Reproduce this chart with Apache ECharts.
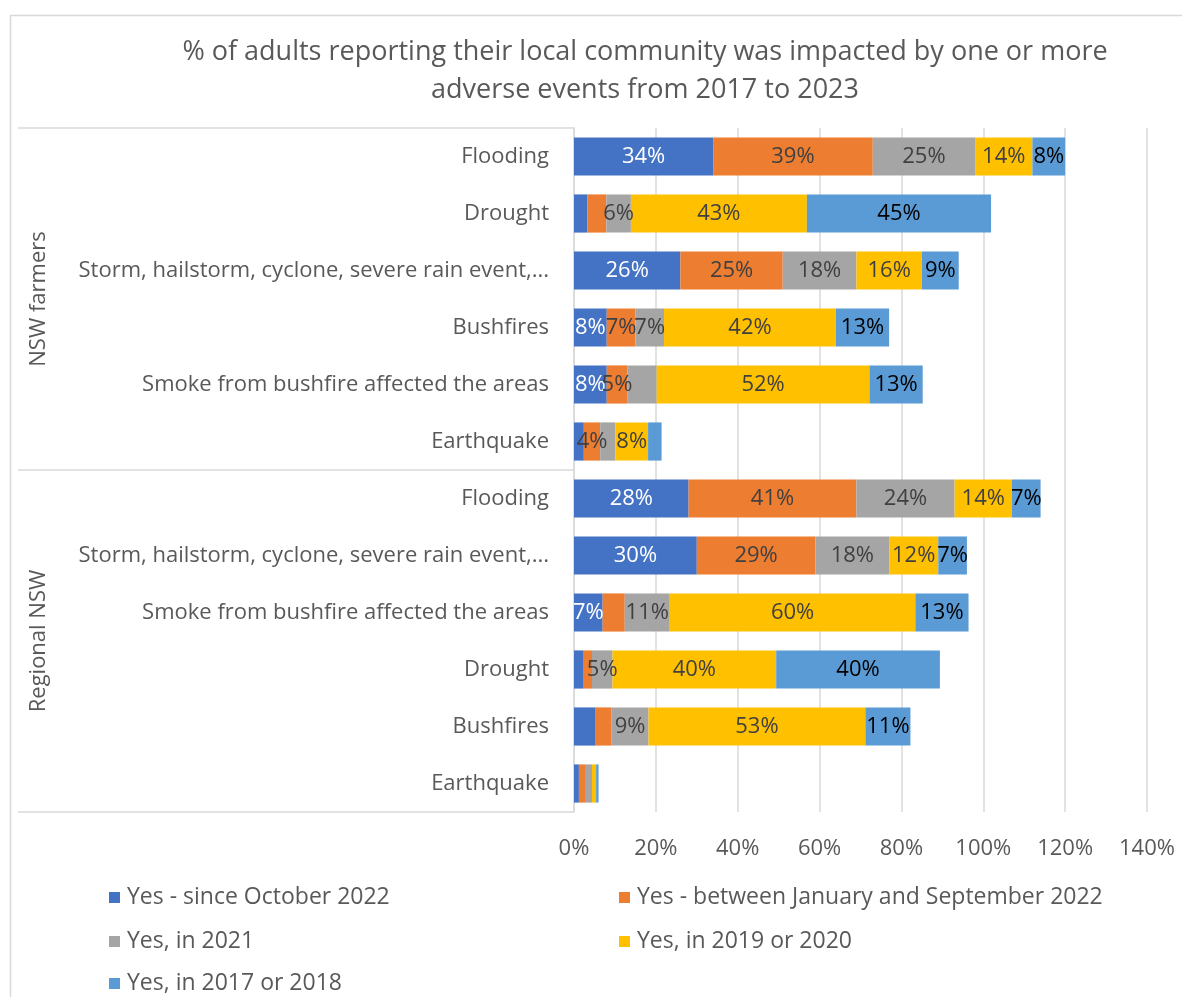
<!DOCTYPE html>
<html>
<head>
<meta charset="utf-8">
<script src="https://cdn.jsdelivr.net/npm/echarts@6/dist/echarts.min.js"></script>
<style>
  html, body { margin: 0; padding: 0; background: #fff; }
  #chart { width: 1182px; height: 997px; }
</style>
</head>
<body>
<div id="chart"></div>
<script>
// Events reported, in display order, for each respondent group
const groups = ['NSW farmers', 'Regional NSW'];
const farmerEvents = ['Flooding', 'Drought', 'Storm, hailstorm, cyclone, severe rain event,...', 'Bushfires', 'Smoke from bushfire affected the areas', 'Earthquake'];
const regionalEvents = ['Flooding', 'Storm, hailstorm, cyclone, severe rain event,...', 'Smoke from bushfire affected the areas', 'Drought', 'Bushfires', 'Earthquake'];

const seriesNames = ['Yes - since October 2022', 'Yes - between January and September 2022', 'Yes, in 2021', 'Yes, in 2019 or 2020', 'Yes, in 2017 or 2018'];

// Percent of adults, farmers rows first then regional rows
const sinceOct2022   = [34, 3.3, 26, 8, 8, 2.4,   28, 30, 7, 2.2, 5.3, 1.2];
const janToSep2022   = [39, 4.6, 25, 7, 5, 4,     41, 29, 5.4, 2.2, 3.9, 1.7];
const in2021         = [25, 6, 18, 7, 7.2, 3.7,   24, 18, 11, 5, 9, 1.5];
const in2019or2020   = [14, 43, 16, 42, 52, 8,    14, 12, 60, 40, 53, 1];
const in2017or2018   = [8, 45, 9, 13, 13, 3.3,    7, 7, 13, 40, 11, 0.6];

// Segments drawn without a value label: [series index, row index]
const unlabelled = [
  [0, 1], [1, 1], [2, 4], [0, 5], [2, 5], [4, 5],
  [1, 8], [0, 9], [1, 9], [0, 10], [1, 10],
  [0, 11], [1, 11], [2, 11], [3, 11], [4, 11]
];

const xTicks = [0, 20, 40, 60, 80, 100, 120, 140];

const seriesValues = [sinceOct2022, janToSep2022, in2021, in2019or2020, in2017or2018];
const colors = ['#4472C4', '#ED7D31', '#A5A5A5', '#FFC000', '#5B9BD5'];
const labelColors = ['#FFFFFF', '#404040', '#404040', '#404040', '#000000'];

const FONT = 'Open Sans';
const rowLabels = farmerEvents.concat(regionalEvents);
const rowKeys = rowLabels.map((n, i) => i + '|' + n);

const chart = echarts.init(document.getElementById('chart'), null, { renderer: 'canvas' });

const series = seriesValues.map((vals, s) => ({
  name: seriesNames[s],
  type: 'bar',
  stack: 'total',
  yAxisIndex: 0,
  barCategoryGap: '33%',
  itemStyle: { color: colors[s] },
  label: {
    show: true,
    position: 'inside',
    color: labelColors[s],
    fontFamily: FONT,
    fontSize: 22,
    formatter: p => p.value + '%'
  },
  data: vals.map((v, r) => {
    const hide = unlabelled.some(([si, ri]) => si === s && ri === r);
    return hide ? { value: v, label: { show: false } } : v;
  })
}));

// Legend laid out in two columns
const legendPos = [[104, 881], [614, 881], [104, 925], [614, 925], [104, 967]];
const legends = seriesNames.map((n, i) => ({
  data: [n],
  left: legendPos[i][0],
  top: legendPos[i][1],
  itemWidth: 11,
  itemHeight: 11,
  icon: 'rect',
  textStyle: { fontFamily: FONT, fontSize: 23, color: '#595959', padding: [0, 0, 0, 2] }
}));

chart.setOption({
  animation: false,
  color: colors,
  title: {
    text: '% of adults reporting their local community was impacted by one or more\nadverse events from 2017 to 2023',
    left: 640,
    top: 28,
    textAlign: 'center',
    textStyle: { fontFamily: FONT, fontSize: 27, fontWeight: 'normal', color: '#595959', lineHeight: 38 }
  },
  legend: legends,
  graphic: [{
    type: 'rect',
    shape: { x: 10.5, y: 15.5, width: 1300, height: 1100 },
    style: { fill: 'none', stroke: '#D9D9D9', lineWidth: 1.5 },
    silent: true
  }],
  grid: { left: 574, right: 35, top: 128, bottom: 185, containLabel: false },
  xAxis: {
    type: 'value',
    min: 0,
    max: 140,
    interval: 20,
    axisLine: { show: false },
    axisTick: { show: false },
    splitLine: { lineStyle: { color: '#D9D9D9', width: 1.5 } },
    axisLabel: {
      margin: 26,
      fontFamily: FONT,
      fontSize: 22,
      color: '#595959',
      formatter: v => xTicks.includes(v) ? v + '%' : ''
    }
  },
  yAxis: [{
    type: 'category',
    inverse: true,
    data: rowKeys,
    position: 'left',
    axisLine: { show: true, lineStyle: { color: '#D9D9D9', width: 1.5 } },
    axisTick: { show: false },
    axisLabel: {
      margin: 25,
      fontFamily: FONT,
      fontSize: 22,
      color: '#595959',
      formatter: v => v.slice(v.indexOf('|') + 1)
    }
  }, {
    type: 'category',
    inverse: true,
    data: groups,
    position: 'left',
    axisLine: { show: false },
    axisTick: { show: true, length: 556, lineStyle: { color: '#D9D9D9', width: 1.5 } },
    axisLabel: {
      margin: 524,
      rotate: 90,
      fontFamily: FONT,
      fontSize: 22,
      color: '#595959'
    },
    splitLine: { show: false }
  }],
  series: series
});
</script>
</body>
</html>
